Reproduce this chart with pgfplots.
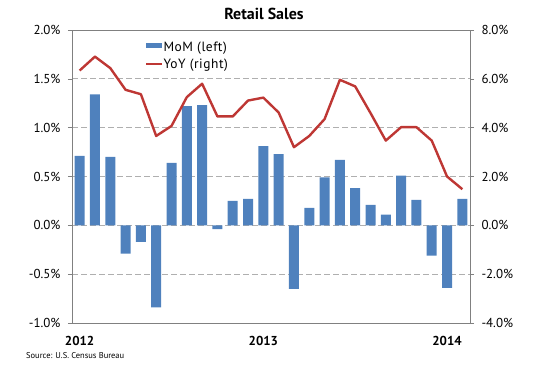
\documentclass[border=0pt]{standalone}
\usepackage{pgfplots}
\usepackage{pgfplotstable}
\pgfplotsset{compat=1.18}
\usepackage{fontspec}
\setmainfont{PT Sans}
\definecolor{barblue}{RGB}{79,129,189}
\definecolor{linered}{RGB}{190,55,52}
\definecolor{axgray}{RGB}{128,128,128}
\definecolor{gridgray}{RGB}{175,175,175}

\pgfplotstableread{
idx mom yoy
0 0.71 6.34
1 1.34 6.91
2 0.70 6.44
3 -0.29 5.55
4 -0.17 5.37
5 -0.84 3.66
6 0.64 4.07
7 1.22 5.25
8 1.23 5.80
9 -0.04 4.46
10 0.25 4.46
11 0.27 5.11
12 0.81 5.23
13 0.73 4.62
14 -0.65 3.20
15 0.18 3.66
16 0.49 4.35
17 0.67 5.96
18 0.38 5.69
19 0.21 4.60
20 0.11 3.47
21 0.51 4.02
22 0.26 4.02
23 -0.31 3.47
24 -0.64 2.00
25 0.27 1.48
}\data

\begin{document}
\begin{tikzpicture}
\begin{axis}[
  at={(0,0)}, anchor=south west,
  scale only axis, width=398bp, height=293bp,
  xmin=-0.5, xmax=25.5, ymin=-1, ymax=2,
  axis line style={axgray, line width=0.8bp},
  ytick={-1,-0.5,0,0.5,1,1.5,2},
  ytick pos=left,
  tick align=outside,
  major tick length=4bp,
  tick style={axgray, line width=0.6bp},
  xtick={0,12,24},
  xticklabels={2012,2013,2014},
  xtick style={draw=none},
  xticklabel style={font=\fontsize{13}{15}\selectfont\bfseries, yshift=-6bp},
  yticklabel style={font=\fontsize{13}{15}\selectfont, xshift=-4bp},
  /pgf/number format/assume math mode=true,
  yticklabel={\pgfmathprintnumber[fixed,fixed zerofill,precision=1]{\tick}\%},
  ymajorgrids,
  grid style={gridgray, dash pattern=on 6bp off 3bp, line width=0.7bp},
]
\addplot[ybar, bar width=10bp, fill=barblue, draw=none] table[x=idx, y=mom] {\data};
\end{axis}
\begin{axis}[
  at={(0,0)}, anchor=south west,
  scale only axis, width=398bp, height=293bp,
  xmin=-0.5, xmax=25.5, ymin=-4, ymax=8,
  hide x axis,
  axis y line*=right,
  axis line style={axgray, line width=0.8bp, -},
  ytick={-4,-2,0,2,4,6,8},
  tick align=outside,
  major tick length=4bp,
  tick style={axgray, line width=0.6bp},
  yticklabel style={font=\fontsize{13}{15}\selectfont, xshift=4bp},
  /pgf/number format/assume math mode=true,
  yticklabel={\pgfmathprintnumber[fixed,fixed zerofill,precision=1]{\tick}\%},
  legend style={at={(0.183,0.962)}, anchor=north west, draw=none, fill=none,
    font=\fontsize{13.5}{15}\selectfont\addfontfeatures{LetterSpace=4}, row sep=4bp, inner sep=0pt,
    nodes={inner sep=1bp},
    /tikz/every even column/.append style={column sep=0bp}},
  legend cell align=left,
]
\addlegendimage{area legend, fill=barblue, draw=none, legend image code/.code={\fill[barblue] (0bp,-0.5bp) rectangle (15.5bp,5bp);}}
\addlegendentry{MoM (left)}
\addplot[linered, line width=2.4bp, line join=round, legend image code/.code={\draw[linered, line width=2bp] (0bp,1bp) -- (15.5bp,1bp);}] table[x=idx, y=yoy] {\data};
\addlegendentry{YoY (right)}
\end{axis}
\node[font=\fontsize{16}{18}\selectfont\bfseries] at (192bp,309bp) {Retail Sales};
\node[font=\fontsize{8.5}{10}\selectfont, anchor=west, inner sep=0pt] at (-46bp,-33bp) {Source: U.S. Census Bureau};
\pgfresetboundingbox
\path[use as bounding box] (-72bp,-46bp) rectangle (481bp,323bp);
\end{tikzpicture}
\end{document}
